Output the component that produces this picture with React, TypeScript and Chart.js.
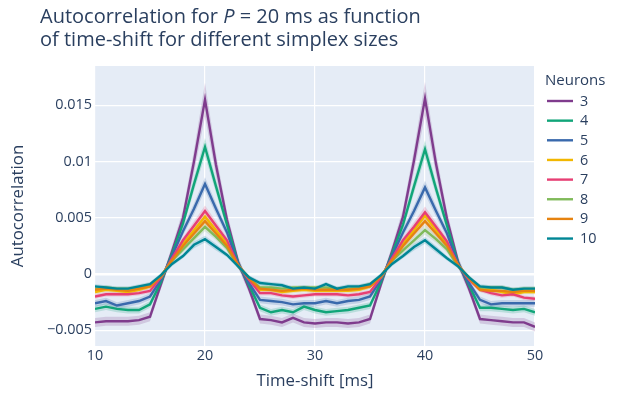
import { useEffect, useRef } from "react";
import { Chart, registerables } from "chart.js";

Chart.register(...registerables);

// ---------- data ----------
const X_VALUES = [
  10, 11, 12, 13, 14, 15, 16, 17, 18, 19, 20, 21, 22, 23, 24, 25, 26, 27, 28, 29, 30,
  31, 32, 33, 34, 35, 36, 37, 38, 39, 40, 41, 42, 43, 44, 45, 46, 47, 48, 49, 50,
];

const SERIES_LABELS = ["3", "4", "5", "6", "7", "8", "9", "10"];
const SERIES_COLORS = ["#7F3C8D", "#11A579", "#3969AC", "#F2B701", "#E73F74", "#80BA5A", "#E68310", "#008695"];

const V3 = [-0.0043, -0.0042, -0.0042, -0.0042, -0.0041, -0.0038, -0.0009, 0.002, 0.005, 0.01, 0.0155, 0.0097, 0.0048, 0.0011, -0.0013, -0.004, -0.0041, -0.0043, -0.0039, -0.0043, -0.0044, -0.0043, -0.0043, -0.0044, -0.0043, -0.004, -0.0009, 0.002, 0.0051, 0.0101, 0.0156, 0.0098, 0.0049, 0.0011, -0.0013, -0.004, -0.0041, -0.0042, -0.0043, -0.0043, -0.0047];
const V4 = [-0.0031, -0.0029, -0.0031, -0.0032, -0.0032, -0.0027, -0.0007, 0.0018, 0.0045, 0.008, 0.0113, 0.0078, 0.0044, 0.001, -0.001, -0.003, -0.0034, -0.0032, -0.0034, -0.0029, -0.0032, -0.0034, -0.0033, -0.0032, -0.003, -0.0028, -0.0007, 0.0018, 0.0044, 0.0078, 0.0111, 0.0076, 0.0043, 0.001, -0.001, -0.003, -0.003, -0.0031, -0.0032, -0.0031, -0.0034];
const V5 = [-0.0026, -0.0024, -0.0028, -0.0026, -0.0024, -0.002, -0.0005, 0.0016, 0.0038, 0.0058, 0.008, 0.0058, 0.0037, 0.0009, -0.0008, -0.0023, -0.0024, -0.0025, -0.0027, -0.0026, -0.0026, -0.0024, -0.0026, -0.0024, -0.0023, -0.002, -0.0005, 0.0016, 0.0037, 0.0056, 0.0077, 0.0056, 0.0036, 0.0009, -0.0008, -0.0023, -0.0027, -0.0026, -0.0026, -0.0026, -0.0026];
const V6 = [-0.0016, -0.0014, -0.0015, -0.0016, -0.0014, -0.0011, -0.0003, 0.0013, 0.0027, 0.0039, 0.0051, 0.0039, 0.0027, 0.0008, -0.0004, -0.0014, -0.0014, -0.0016, -0.0015, -0.0014, -0.0015, -0.0015, -0.0015, -0.0015, -0.0014, -0.0011, -0.0003, 0.0013, 0.0027, 0.0039, 0.0052, 0.0039, 0.0027, 0.0008, -0.0004, -0.0014, -0.0014, -0.0016, -0.0018, -0.0016, -0.0016];
const V7 = [-0.002, -0.0018, -0.0018, -0.0018, -0.0017, -0.0015, -0.0003, 0.0014, 0.003, 0.0043, 0.0056, 0.0043, 0.003, 0.0008, -0.0005, -0.0017, -0.0017, -0.0019, -0.002, -0.0019, -0.0018, -0.0018, -0.0018, -0.0019, -0.0018, -0.0016, -0.0003, 0.0014, 0.003, 0.0042, 0.0055, 0.0042, 0.0029, 0.0008, -0.0005, -0.0014, -0.0017, -0.0019, -0.0018, -0.0021, -0.0022];
const V8 = [-0.0013, -0.0012, -0.0013, -0.0013, -0.0012, -0.001, -0.0002, 0.0012, 0.0022, 0.0032, 0.0042, 0.0033, 0.0023, 0.0007, -0.0003, -0.0012, -0.0012, -0.0013, -0.0012, -0.0012, -0.0012, -0.0012, -0.0013, -0.0013, -0.0012, -0.0009, -0.0002, 0.0012, 0.0021, 0.003, 0.0039, 0.0031, 0.0022, 0.0007, -0.0003, -0.0012, -0.0012, -0.0012, -0.0014, -0.0013, -0.0013];
const V9 = [-0.0014, -0.0013, -0.0014, -0.0015, -0.0013, -0.0011, -0.0002, 0.0012, 0.0025, 0.0036, 0.0047, 0.0036, 0.0025, 0.0008, -0.0004, -0.0013, -0.0014, -0.0015, -0.0014, -0.0013, -0.0014, -0.0014, -0.0014, -0.0014, -0.0013, -0.0011, -0.0002, 0.0012, 0.0025, 0.0036, 0.0047, 0.0036, 0.0025, 0.0008, -0.0004, -0.0014, -0.0015, -0.0015, -0.0016, -0.0015, -0.0015];
const V10 = [-0.0011, -0.0012, -0.0013, -0.0013, -0.0011, -0.0009, -0.0001, 0.0009, 0.0016, 0.0026, 0.0031, 0.0024, 0.0017, 0.0007, -0.0003, -0.0008, -0.0009, -0.001, -0.0013, -0.0012, -0.0013, -0.0009, -0.0013, -0.0011, -0.0011, -0.0009, -0.0001, 0.0009, 0.0016, 0.0024, 0.003, 0.0022, 0.0014, 0.0007, -0.0003, -0.0011, -0.0012, -0.0012, -0.0014, -0.0013, -0.0013];

// half-widths of the shaded error bands
const E3 = [0.0004, 0.0004, 0.0004, 0.0004, 0.0004, 0.0004, 0.0004, 0.0005, 0.0007, 0.001, 0.0015, 0.001, 0.0007, 0.0005, 0.0004, 0.0004, 0.0004, 0.0004, 0.0004, 0.0004, 0.0004, 0.0004, 0.0004, 0.0004, 0.0004, 0.0004, 0.0004, 0.0005, 0.0007, 0.001, 0.0015, 0.001, 0.0007, 0.0005, 0.0004, 0.0004, 0.0004, 0.0004, 0.0004, 0.0004, 0.0004];
const E4 = [0.0003, 0.0003, 0.0003, 0.0003, 0.0003, 0.0003, 0.0003, 0.0004, 0.0005, 0.0006, 0.0008, 0.0006, 0.0005, 0.0004, 0.0003, 0.0003, 0.0003, 0.0003, 0.0003, 0.0003, 0.0003, 0.0003, 0.0003, 0.0003, 0.0003, 0.0003, 0.0003, 0.0004, 0.0005, 0.0006, 0.0008, 0.0006, 0.0005, 0.0004, 0.0003, 0.0003, 0.0003, 0.0003, 0.0003, 0.0003, 0.0003];
const E5 = [0.0003, 0.0003, 0.0003, 0.0003, 0.0003, 0.0003, 0.0003, 0.0003, 0.0004, 0.0005, 0.0006, 0.0005, 0.0004, 0.0003, 0.0003, 0.0003, 0.0003, 0.0003, 0.0003, 0.0003, 0.0003, 0.0003, 0.0003, 0.0003, 0.0003, 0.0003, 0.0003, 0.0003, 0.0004, 0.0005, 0.0006, 0.0005, 0.0004, 0.0003, 0.0003, 0.0003, 0.0003, 0.0003, 0.0003, 0.0003, 0.0003];
const E6 = [0.0002, 0.0002, 0.0002, 0.0002, 0.0002, 0.0002, 0.0002, 0.0002, 0.0003, 0.0003, 0.0004, 0.0003, 0.0003, 0.0002, 0.0002, 0.0002, 0.0002, 0.0002, 0.0002, 0.0002, 0.0002, 0.0002, 0.0002, 0.0002, 0.0002, 0.0002, 0.0002, 0.0002, 0.0003, 0.0003, 0.0004, 0.0003, 0.0003, 0.0002, 0.0002, 0.0002, 0.0002, 0.0002, 0.0002, 0.0002, 0.0002];
const E7 = [0.0002, 0.0002, 0.0002, 0.0002, 0.0002, 0.0002, 0.0002, 0.0003, 0.0003, 0.0004, 0.0005, 0.0004, 0.0003, 0.0003, 0.0002, 0.0002, 0.0002, 0.0002, 0.0002, 0.0002, 0.0002, 0.0002, 0.0002, 0.0002, 0.0002, 0.0002, 0.0002, 0.0003, 0.0003, 0.0004, 0.0005, 0.0004, 0.0003, 0.0003, 0.0002, 0.0002, 0.0002, 0.0002, 0.0002, 0.0002, 0.0002];
const E8 = [0.0002, 0.0002, 0.0002, 0.0002, 0.0002, 0.0002, 0.0002, 0.0002, 0.0003, 0.0003, 0.0004, 0.0003, 0.0003, 0.0002, 0.0002, 0.0002, 0.0002, 0.0002, 0.0002, 0.0002, 0.0002, 0.0002, 0.0002, 0.0002, 0.0002, 0.0002, 0.0002, 0.0002, 0.0003, 0.0003, 0.0004, 0.0003, 0.0003, 0.0002, 0.0002, 0.0002, 0.0002, 0.0002, 0.0002, 0.0002, 0.0002];
const E9 = [0.0002, 0.0002, 0.0002, 0.0002, 0.0002, 0.0002, 0.0002, 0.0002, 0.0003, 0.0003, 0.0004, 0.0003, 0.0003, 0.0002, 0.0002, 0.0002, 0.0002, 0.0002, 0.0002, 0.0002, 0.0002, 0.0002, 0.0002, 0.0002, 0.0002, 0.0002, 0.0002, 0.0002, 0.0003, 0.0003, 0.0004, 0.0003, 0.0003, 0.0002, 0.0002, 0.0002, 0.0002, 0.0002, 0.0002, 0.0002, 0.0002];
const E10 = [0.0002, 0.0002, 0.0002, 0.0002, 0.0002, 0.0002, 0.0002, 0.0002, 0.0002, 0.0003, 0.0003, 0.0003, 0.0002, 0.0002, 0.0002, 0.0002, 0.0002, 0.0002, 0.0002, 0.0002, 0.0002, 0.0002, 0.0002, 0.0002, 0.0002, 0.0002, 0.0002, 0.0002, 0.0002, 0.0003, 0.0003, 0.0003, 0.0002, 0.0002, 0.0002, 0.0002, 0.0002, 0.0002, 0.0002, 0.0002, 0.0002];

const SERIES_VALUES = [V3, V4, V5, V6, V7, V8, V9, V10];
const SERIES_ERRORS = [E3, E4, E5, E6, E7, E8, E9, E10];

const X_TICKS = [10, 20, 30, 40, 50];
const Y_TICKS = [-0.005, 0, 0.005, 0.01, 0.015];
const Y_TICK_LABELS = ["\u22120.005", "0", "0.005", "0.01", "0.015"];
const X_MIN = 10;
const X_MAX = 50;
const Y_MIN = -0.0064;
const Y_MAX = 0.0185;

const TITLE_PARTS_LINE1 = [
  { text: "Autocorrelation for ", italic: false },
  { text: "P", italic: true },
  { text: " = 20 ms as function", italic: false },
];
const TITLE_LINE2 = "of time-shift for different simplex sizes";
const LEGEND_TITLE = "Neurons";
const X_TITLE = "Time-shift [ms]";
const Y_TITLE = "Autocorrelation";

// ---------- styling ----------
const FONT = "'Open Sans', 'DejaVu Sans', sans-serif";
const TEXT_COLOR = "#2a3f5f";
const PLOT_BG = "#E5ECF6";

function hexToRgba(hex: string, a: number) {
  const r = parseInt(hex.slice(1, 3), 16);
  const g = parseInt(hex.slice(3, 5), 16);
  const b = parseInt(hex.slice(5, 7), 16);
  return `rgba(${r},${g},${b},${a})`;
}

const bgPlugin = {
  id: "plotBg",
  beforeDraw(chart: any) {
    const { ctx, chartArea } = chart;
    ctx.save();
    ctx.fillStyle = PLOT_BG;
    ctx.fillRect(chartArea.left, chartArea.top, chartArea.right - chartArea.left, chartArea.bottom - chartArea.top);
    ctx.restore();
  },
};

const textPlugin = {
  id: "titleLegend",
  afterDraw(chart: any) {
    const { ctx } = chart;
    ctx.save();
    ctx.fillStyle = TEXT_COLOR;
    ctx.textBaseline = "alphabetic";
    ctx.textAlign = "left";
    // title
    let x = 40;
    for (const p of TITLE_PARTS_LINE1) {
      ctx.font = `${p.italic ? "italic " : ""}20px ${FONT}`;
      ctx.fillText(p.text, x, 23);
      x += ctx.measureText(p.text).width;
    }
    ctx.font = `20px ${FONT}`;
    ctx.fillText(TITLE_LINE2, 40, 46);

    // legend
    ctx.textBaseline = "middle";
    ctx.font = `15px ${FONT}`;
    ctx.fillText(LEGEND_TITLE, 545, 81);
    ctx.font = `14.4px ${FONT}`;
    SERIES_LABELS.forEach((lab, i) => {
      const y = 101 + i * 19.65;
      ctx.strokeStyle = SERIES_COLORS[i];
      ctx.lineWidth = 2.4;
      ctx.beginPath();
      ctx.moveTo(547, y);
      ctx.lineTo(573, y);
      ctx.stroke();
      ctx.fillStyle = TEXT_COLOR;
      ctx.fillText(lab, 580, y + 0.5);
    });
    ctx.restore();
  },
};

export default function App() {
  const ref = useRef<HTMLCanvasElement>(null);

  useEffect(() => {
    if (!ref.current) return;
    const datasets: any[] = [];
    SERIES_VALUES.forEach((vals, k) => {
      const err = SERIES_ERRORS[k];
      const color = SERIES_COLORS[k];
      const upperIndex = datasets.length;
      datasets.push({
        label: `${SERIES_LABELS[k]} upper`,
        data: X_VALUES.map((x, i) => ({ x, y: vals[i] + err[i] })),
        borderWidth: 0,
        pointRadius: 0,
        fill: false,
        order: 20 + (7 - k),
      });
      datasets.push({
        label: `${SERIES_LABELS[k]} lower`,
        data: X_VALUES.map((x, i) => ({ x, y: vals[i] - err[i] })),
        borderWidth: 0,
        pointRadius: 0,
        fill: upperIndex,
        backgroundColor: hexToRgba(color, 0.2),
        order: 20 + (7 - k),
      });
      datasets.push({
        label: SERIES_LABELS[k],
        data: X_VALUES.map((x, i) => ({ x, y: vals[i] })),
        borderColor: color,
        backgroundColor: color,
        borderWidth: 2.4,
        pointRadius: 0,
        fill: false,
        tension: 0,
        order: 7 - k,
      });
    });

    const chart = new Chart(ref.current, {
      type: "line",
      data: { datasets },
      plugins: [bgPlugin, textPlugin],
      options: {
        animation: false,
        responsive: false,
        devicePixelRatio: 1,
        events: [],
        layout: { padding: { left: 0, top: 66, right: 83, bottom: 0 } },
        plugins: {
          legend: { display: false },
          title: { display: false },
          tooltip: { enabled: false },
          filler: { propagate: false },
        },
        scales: {
          x: {
            type: "linear",
            min: X_MIN,
            max: X_MAX,
            afterBuildTicks: (scale: any) => {
              scale.ticks = X_TICKS.map((v) => ({ value: v }));
            },
            afterFit: (scale: any) => {
              scale.height = 49;
            },
            ticks: {
              font: { family: FONT, size: 14.4 },
              color: TEXT_COLOR,
              padding: 1,
              maxRotation: 0,
              callback: (v: any) => String(v),
            },
            grid: { color: "#ffffff", lineWidth: 1.2, drawTicks: false },
            border: { display: false },
            title: {
              display: true,
              text: X_TITLE,
              font: { family: FONT, size: 16.8 },
              color: TEXT_COLOR,
              padding: { top: 0, bottom: 4 },
            },
          },
          y: {
            type: "linear",
            min: Y_MIN,
            max: Y_MAX,
            afterBuildTicks: (scale: any) => {
              scale.ticks = Y_TICKS.map((v) => ({ value: v }));
            },
            afterFit: (scale: any) => {
              scale.width = 95;
            },
            ticks: {
              font: { family: FONT, size: 14.4 },
              color: TEXT_COLOR,
              padding: 3,
              callback: (v: any) => {
                const idx = Y_TICKS.findIndex((t) => Math.abs(t - Number(v)) < 1e-9);
                return idx >= 0 ? Y_TICK_LABELS[idx] : "";
              },
            },
            grid: {
              color: "#ffffff",
              lineWidth: (ctx: any) => (ctx.tick && Math.abs(ctx.tick.value) < 1e-12 ? 2.4 : 1.2),
              drawTicks: false,
            },
            border: { display: false },
            title: {
              display: true,
              text: Y_TITLE,
              font: { family: FONT, size: 16.8 },
              color: TEXT_COLOR,
              padding: { top: 8, bottom: 0 },
            },
          },
        },
      } as any,
    });
    return () => chart.destroy();
  }, []);

  return (
    <div style={{ position: "fixed", left: 0, top: 0, width: 618, height: 395, background: "#fff" }}>
      <canvas ref={ref} width={618} height={395} style={{ display: "block", width: 618, height: 395 }} />
    </div>
  );
}
